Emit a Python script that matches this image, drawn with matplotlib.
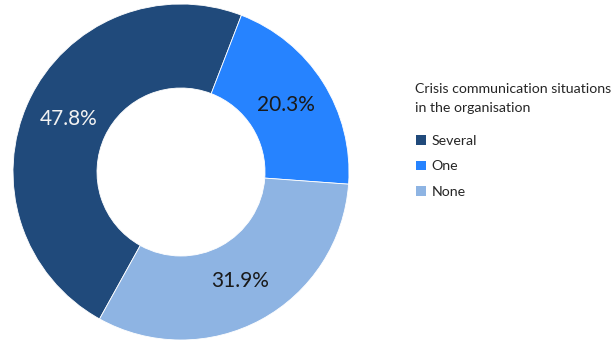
import matplotlib
matplotlib.use("Agg")
import matplotlib.pyplot as plt
from matplotlib.patches import Patch

plt.rcParams['font.family'] = ['Lato', 'DejaVu Sans']

categories = ['Several', 'One', 'None']
shares = [47.8, 20.3, 31.9]
colors = ['#204a7b', '#2683ff', '#8eb4e3']
label_colors = ['#f2f2f2', '#1a1a1a', '#1a1a1a']
legend_title = 'Crisis communication situations\nin the organisation'

fig = plt.figure(figsize=(6.15, 3.43), dpi=100)
W, H = 615, 343
cx, cy, r = 181, 172, 168
ax = fig.add_axes([(cx - r) / W, (H - cy - r) / H, 2 * r / W, 2 * r / H])

wedges, texts, autotexts = ax.pie(
    shares, colors=colors, startangle=241, counterclock=False,
    autopct='%.1f%%', pctdistance=0.74,
    wedgeprops=dict(width=0.5, edgecolor='white', linewidth=0.6),
    textprops=dict(fontsize=15),
)
for t, c in zip(autotexts, label_colors):
    t.set_color(c)
ax.set_xlim(-1, 1)
ax.set_ylim(-1, 1)
ax.set_aspect('equal')
ax.axis('off')

# legend title drawn on its own so its spacing can be set freely
fig.text(415 / W, 1 - 83 / H, legend_title, ha='left', va='top',
         fontsize=10.2, color='#262626', linespacing=1.7)

handles = [Patch(facecolor=c, edgecolor='none') for c in colors]
leg = fig.legend(handles, categories, loc='upper left',
                 bbox_to_anchor=(416 / W, 1 - 135 / H), frameon=False,
                 fontsize=10.2, handlelength=0.7, handleheight=0.7,
                 handletextpad=0.4, labelspacing=0.95, borderaxespad=0,
                 borderpad=0)
for t in leg.get_texts():
    t.set_color('#262626')

fig.savefig('out.png', dpi=100)
